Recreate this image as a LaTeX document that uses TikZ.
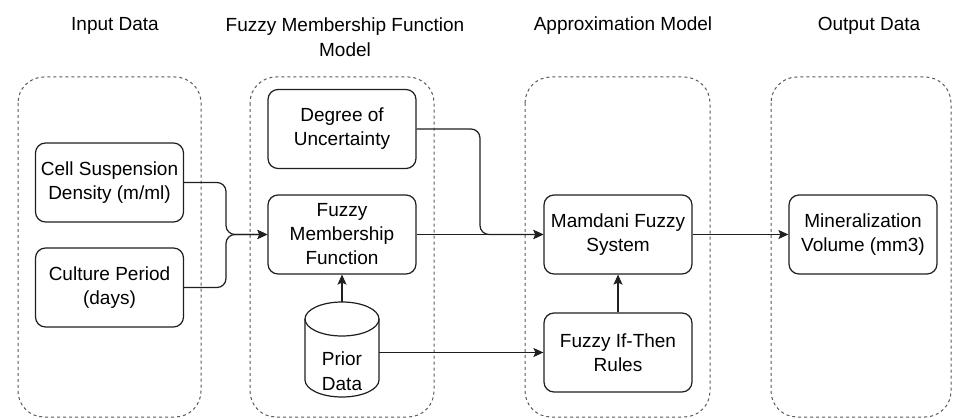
\documentclass[tikz,border=0pt]{standalone}
\usepackage{fontspec}
\setmainfont{Liberation Sans}
\usetikzlibrary{arrows.meta}
\begin{document}
\begin{tikzpicture}[x=1pt,y=-1pt,
 box/.style={draw=black!88, line width=1.2pt, rounded corners=10pt, minimum width=148pt, minimum height=79pt, align=center, inner sep=0pt, font=\fontsize{19}{24}\selectfont},
 group/.style={draw=black!65, line width=1pt, dash pattern=on 3pt off 3pt, rounded corners=26pt},
 title/.style={font=\fontsize{19}{25}\selectfont, align=center, inner sep=0pt},
 arr/.style={draw=black!88, line width=1.2pt, -{Stealth[length=10pt,width=9pt,inset=2pt]}, rounded corners=9pt},
 cyl/.style={draw=black!88, line width=1.2pt}]
\useasboundingbox (0,0) rectangle (953,419);
% groups
\draw[group] (18,77) rectangle (201,417);
\draw[group] (250,77) rectangle (434,417);
\draw[group] (525,77) rectangle (710,417);
\draw[group] (771,77) rectangle (951,417);
% titles
\node[title, anchor=base] (t1) at (115,31) {Input Data};
\node[title, anchor=north] (t2) at (345,18) {Fuzzy Membership Function\\Model};
\node[title, anchor=base] (t3) at (623,31) {Approximation Model};
\node[title, anchor=base] (t4) at (869,31) {Output Data};
% boxes
\node[box] (csd) at (109.5,182.5) {Cell Suspension\\Density (m/ml)};
\node[box] (cult) at (109.5,287.5) {Culture Period\\(days)};
\node[box] (deg) at (342,129) {Degree of\\Uncertainty};
\node[box] (fmf) at (342,234.5) {Fuzzy\\Membership\\Function};
\node[box] (mam) at (618,234.5) {Mamdani Fuzzy\\System};
\node[box] (rules) at (618,352.5) {Fuzzy If-Then\\Rules};
\node[box] (mine) at (863,234.5) {Mineralization\\Volume (mm3)};
% cylinder
\node[minimum width=74pt, minimum height=95pt, inner sep=0pt] (prior) at (342,349.5) {};
\draw[cyl] (305,319) -- (305,380) arc[start angle=180,end angle=360,x radius=37pt,y radius=17pt] -- (379,319);
\draw[cyl] (342,319) ellipse [x radius=37pt, y radius=17pt];
\node[title] (priortxt) at (342,371) {Prior\\Data};
% connectors
\coordinate (j) at (226,234.5);
\coordinate (k) at (480,234.5);
\draw[arr] (csd.east) -| (j) -- (fmf.west);
\draw[arr] (cult.east) -| (j) -- (fmf.west);
\draw[arr] (deg.east) -| (k) -- (mam.west);
\draw[arr] (fmf.east) -- (mam.west);
\draw[arr] (prior.north) -- (fmf.south);
\draw[arr] (prior.east |- rules.west) -- (rules.west);
\draw[arr] (rules.north) -- (mam.south);
\draw[arr] (mam.east) -- (mine.west);
\end{tikzpicture}
\end{document}
